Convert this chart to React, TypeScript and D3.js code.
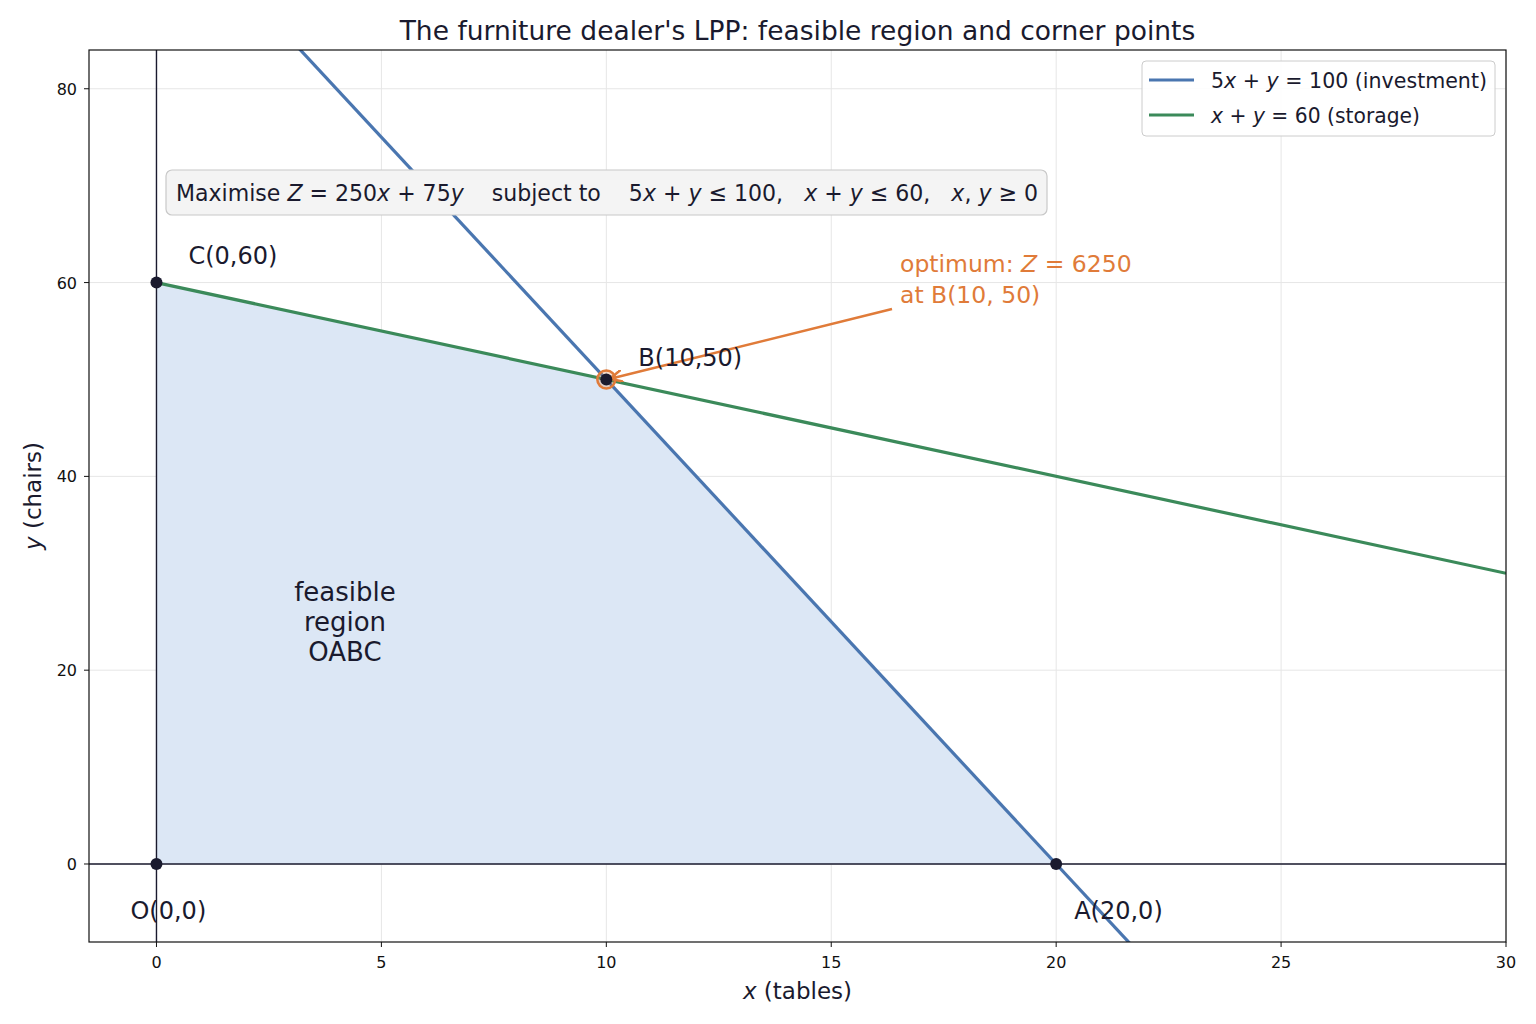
import React from 'react';
import * as d3 from 'd3';

// constraint lines (x range drawn, clipped to the plot)
const investmentLine = { label: 'investment', a: 5, b: 1, c: 100, xs: [-1.5, 30] };
const storageLine = { label: 'storage', a: 1, b: 1, c: 60, xs: [0, 30] };

// feasible region OABC and corner points
const regionX = [0, 20, 10, 0];
const regionY = [0, 0, 50, 60];
const cornerNames = ['O(0,0)', 'A(20,0)', 'B(10,50)', 'C(0,60)'];

const xTicks = [0, 5, 10, 15, 20, 25, 30];
const yTicks = [0, 20, 40, 60, 80];

const W = 1536;
const H = 1024;
const margin = { left: 89, right: 30, top: 50, bottom: 82 };

const BLUE = '#4a76b0';
const GREEN = '#3b8a5a';
const ORANGE = '#e07b39';
const DARK = '#1a1a2e';
const FONT = 'DejaVu Sans, sans-serif';

export default function App() {
  const x = d3.scaleLinear().domain([-1.5, 30]).range([margin.left, W - margin.right]);
  const y = d3.scaleLinear().domain([-8.05, 84]).range([H - margin.bottom, margin.top]);

  const lineGen = d3
    .line<[number, number]>()
    .x((d) => x(d[0]))
    .y((d) => y(d[1]));

  const pts = (l: typeof investmentLine): [number, number][] =>
    l.xs.map((v) => [v, (l.c - l.a * v) / l.b] as [number, number]);

  const region: [number, number][] = regionX.map((v, i) => [v, regionY[i]]);
  const regionPath = lineGen(region) + 'Z';

  const [x0, x1] = x.range();
  const [y0, y1] = y.range();

  // label offsets per corner (px)
  const labelOff = [
    [-26, 55],
    [18, 55],
    [32, -13],
    [32, -19],
  ];

  const bx = x(regionX[2]);
  const by = y(regionY[2]);

  return (
    <svg width={W} height={H} style={{ display: 'block', position: 'absolute', left: 0, top: 0 }} fontFamily={FONT}>
      <defs>
        <clipPath id="plot">
          <rect x={x0} y={y1} width={x1 - x0} height={y0 - y1} />
        </clipPath>
        <marker id="arr" viewBox="0 0 10 10" refX="9" refY="5" markerWidth="5" markerHeight="5" orient="auto">
          <path d="M0,0 L10,5 L0,10" fill="none" stroke={ORANGE} strokeWidth={2} />
        </marker>
      </defs>
      <rect width={W} height={H} fill="#fff" />

      {/* grid */}
      {xTicks.map((t) => (
        <line key={'gx' + t} x1={x(t)} x2={x(t)} y1={y1} y2={y0} stroke="#e6e6e6" strokeWidth={1} />
      ))}
      {yTicks.map((t) => (
        <line key={'gy' + t} x1={x0} x2={x1} y1={y(t)} y2={y(t)} stroke="#e6e6e6" strokeWidth={1} />
      ))}

      <g clipPath="url(#plot)">
        <path d={regionPath} fill="#dce7f5" />
        {/* axes through origin */}
        <line x1={x(0)} x2={x(0)} y1={y1} y2={y0} stroke={DARK} strokeWidth={1.4} />
        <line x1={x0} x2={x1} y1={y(0)} y2={y(0)} stroke={DARK} strokeWidth={1.4} />
        <path d={lineGen(pts(investmentLine)) || ''} fill="none" stroke={BLUE} strokeWidth={3.2} />
        <path d={lineGen(pts(storageLine)) || ''} fill="none" stroke={GREEN} strokeWidth={3.2} />
      </g>

      {/* frame */}
      <rect x={x0} y={y1} width={x1 - x0} height={y0 - y1} fill="none" stroke="#111" strokeWidth={1.2} />

      {/* ticks */}
      {xTicks.map((t) => (
        <g key={'tx' + t}>
          <line x1={x(t)} x2={x(t)} y1={y0} y2={y0 + 5} stroke="#111" />
          <text x={x(t)} y={y0 + 26} textAnchor="middle" fontSize={16} fill="#111">
            {t}
          </text>
        </g>
      ))}
      {yTicks.map((t) => (
        <g key={'ty' + t}>
          <line x1={x0 - 5} x2={x0} y1={y(t)} y2={y(t)} stroke="#111" />
          <text x={x0 - 12} y={y(t) + 6} textAnchor="end" fontSize={16} fill="#111">
            {t}
          </text>
        </g>
      ))}

      {/* title and axis labels */}
      <text x={(x0 + x1) / 2} y={40} textAnchor="middle" fontSize={26.5} fill={DARK}>
        The furniture dealer's LPP: feasible region and corner points
      </text>
      <text x={(x0 + x1) / 2} y={999} textAnchor="middle" fontSize={23} fill={DARK}>
        <tspan fontStyle="italic">x</tspan> (tables)
      </text>
      <text transform={`translate(41,${(y0 + y1) / 2}) rotate(-90)`} textAnchor="middle" fontSize={23} fill={DARK}>
        <tspan fontStyle="italic">y</tspan> (chairs)
      </text>

      {/* objective box */}
      <rect x={166} y={170} width={881} height={45} rx={6} fill="#f4f4f4" stroke="#c8c8c8" strokeWidth={1.2} />
      <text
        x={176}
        y={201}
        fontSize={23}
        fill={DARK}
        textLength={862}
        lengthAdjust="spacingAndGlyphs"
        style={{ whiteSpace: 'pre' }}
      >
        {'Maximise '}
        <tspan fontStyle="italic">Z</tspan>
        {' = 250'}
        <tspan fontStyle="italic">x</tspan>
        {' + 75'}
        <tspan fontStyle="italic">y</tspan>
        {'    subject to    5'}
        <tspan fontStyle="italic">x</tspan>
        {' + '}
        <tspan fontStyle="italic">y</tspan>
        {' ≤ 100,   '}
        <tspan fontStyle="italic">x</tspan>
        {' + '}
        <tspan fontStyle="italic">y</tspan>
        {' ≤ 60,   '}
        <tspan fontStyle="italic">x</tspan>
        {', '}
        <tspan fontStyle="italic">y</tspan>
        {' ≥ 0'}
      </text>

      {/* feasible region label */}
      <text x={345} textAnchor="middle" fontSize={26} fill={DARK}>
        <tspan x={345} y={601}>feasible</tspan>
        <tspan x={345} y={631}>region</tspan>
        <tspan x={345} y={661}>OABC</tspan>
      </text>

      {/* optimum annotation */}
      <line x1={892} y1={309} x2={bx + 5} y2={by - 1} stroke={ORANGE} strokeWidth={2.5} markerEnd="url(#arr)" />
      <text fontSize={23.5} fill={ORANGE}>
        <tspan x={900} y={272}>
          optimum: <tspan fontStyle="italic">Z</tspan> = 6250
        </tspan>
        <tspan x={900} y={303}>at B(10, 50)</tspan>
      </text>
      <circle cx={bx} cy={by} r={9} fill={ORANGE} fillOpacity={0.25} stroke={ORANGE} strokeWidth={2.5} />

      {/* corner points */}
      {regionX.map((v, i) => (
        <g key={cornerNames[i]}>
          <circle cx={x(v)} cy={y(regionY[i])} r={6} fill={DARK} />
          <text x={x(v) + labelOff[i][0]} y={y(regionY[i]) + labelOff[i][1]} fontSize={24} fill={DARK}>
            {cornerNames[i]}
          </text>
        </g>
      ))}

      {/* legend */}
      <rect x={1142} y={61} width={353} height={75} rx={4} fill="#fff" fillOpacity={0.9} stroke="#cccccc" />
      <line x1={1149} x2={1194} y1={80} y2={80} stroke={BLUE} strokeWidth={3} />
      <line x1={1149} x2={1194} y1={115} y2={115} stroke={GREEN} strokeWidth={3} />
      <text x={1211} y={88} fontSize={20.5} fill={DARK} textLength={276} lengthAdjust="spacingAndGlyphs">
        5<tspan fontStyle="italic">x</tspan> + <tspan fontStyle="italic">y</tspan> = 100 (investment)
      </text>
      <text x={1211} y={123} fontSize={20.5} fill={DARK} textLength={209} lengthAdjust="spacingAndGlyphs">
        <tspan fontStyle="italic">x</tspan> + <tspan fontStyle="italic">y</tspan> = 60 (storage)
      </text>
    </svg>
  );
}
